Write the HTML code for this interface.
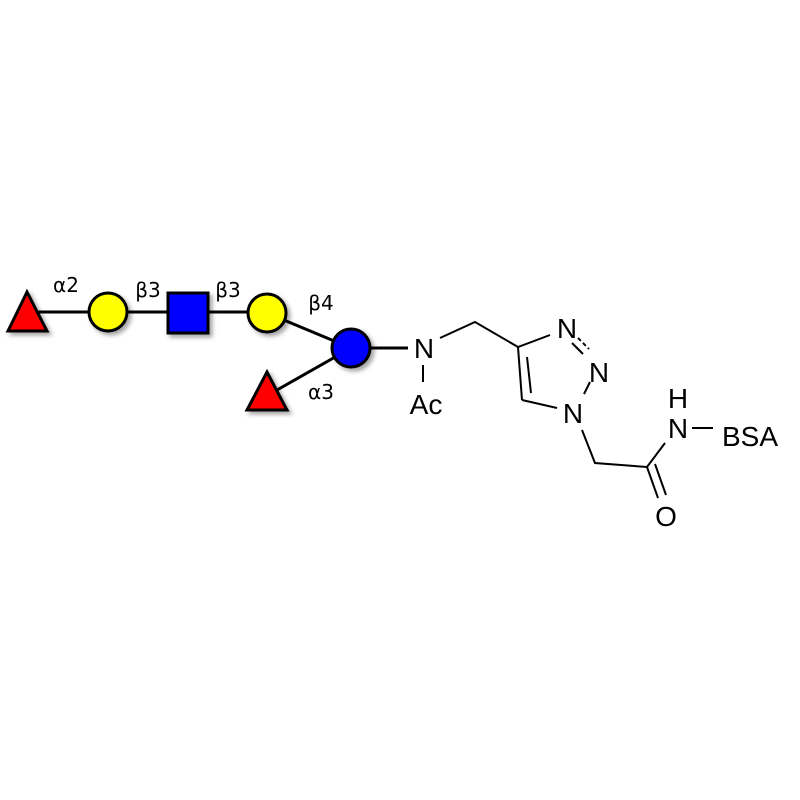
<!DOCTYPE html>
<html><head><style>html,body{margin:0;padding:0;background:#fff;width:800px;height:800px;overflow:hidden}</style></head>
<body>
<svg width="800" height="800" viewBox="0 0 800 800" xmlns="http://www.w3.org/2000/svg">
<defs><filter id="sh" x="-30%" y="-30%" width="170%" height="170%"><feDropShadow dx="3" dy="3" stdDeviation="2" flood-color="#000" flood-opacity="0.35"/></filter></defs>
<g stroke="#000" stroke-width="3" fill="none">
<line x1="27" y1="312" x2="267" y2="312"/>
<line x1="267" y1="313" x2="351" y2="348"/>
<line x1="277" y1="390" x2="351" y2="348"/>
<line x1="351" y1="348" x2="408" y2="348"/>
</g>
<g stroke="#000" stroke-width="3" filter="url(#sh)">
<polygon points="27,292 8,331 47,331" fill="#ff0000"/>
<circle cx="108" cy="312" r="19" fill="#ffff00"/>
<rect x="168" y="293" width="40" height="40" fill="#0000ff"/>
<circle cx="267" cy="313" r="19" fill="#ffff00"/>
<circle cx="351" cy="348" r="19" fill="#0000ff"/>
<polygon points="267,372 247,410 287,410" fill="#ff0000"/>
</g>
<g font-family="'DejaVu Sans','Liberation Sans',sans-serif" font-size="20" fill="#000" text-anchor="middle">
<text x="66" y="292">α2</text>
<text x="148" y="297">β3</text>
<text x="228" y="297">β3</text>
<text x="321" y="310">β4</text>
<text x="321" y="399">α3</text>
</g>
<g stroke="#000" stroke-width="2" fill="none">
<line x1="423" y1="365" x2="423" y2="382"/>
<polyline points="440,338 475,322 518,347 550,335"/>
<line x1="518" y1="347" x2="522" y2="400"/>
<line x1="527" y1="357" x2="531" y2="393"/>
<line x1="522" y1="400" x2="557" y2="408"/>
<line x1="572" y1="343" x2="583" y2="354"/>
<line x1="578" y1="338" x2="589" y2="349" stroke-dasharray="4,3"/>
<line x1="590" y1="382" x2="584" y2="394"/>
<polyline points="582,430 595,463 647,467 665,443"/>
<line x1="647" y1="467" x2="658" y2="498"/>
<line x1="655" y1="464" x2="666" y2="495"/>
<line x1="692" y1="428" x2="713" y2="428"/>
</g>
<g font-family="'Liberation Sans',sans-serif" font-size="28" fill="#000" text-anchor="middle">
<text x="424" y="358">N</text>
<text x="426" y="414">Ac</text>
<text x="567" y="338">N</text>
<text x="599" y="382">N</text>
<text x="573" y="423">N</text>
<text x="678" y="408">H</text>
<text x="678" y="438">N</text>
<text x="750" y="446">BSA</text>
<text x="666" y="526">O</text>
</g>
</svg>
</body></html>
